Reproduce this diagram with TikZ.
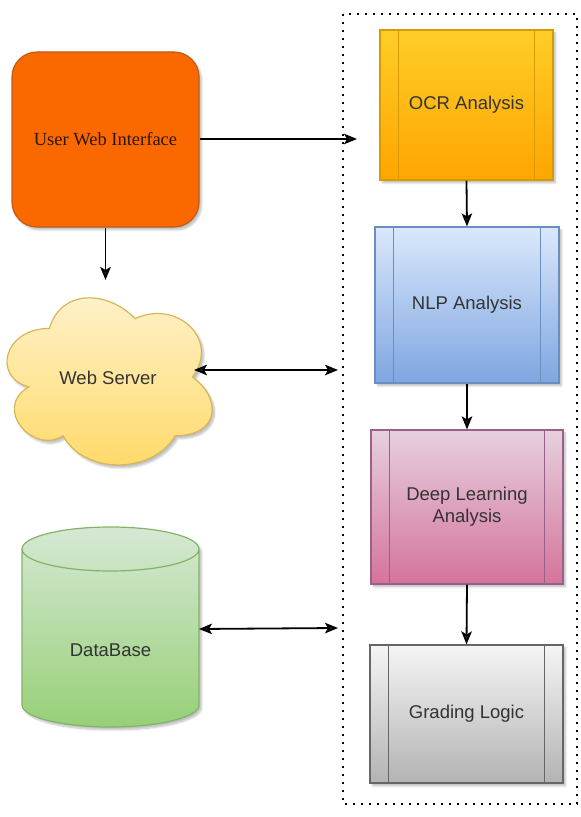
\documentclass[tikz,border=0pt]{standalone}
\usepackage{fontspec}
\setmainfont{Liberation Serif}
\newfontfamily\labelsans{Liberation Sans}
\usetikzlibrary{arrows.meta,shadows.blur}
\definecolor{uwifill}{HTML}{FA6800}
\definecolor{uwidraw}{HTML}{C25A12}
\definecolor{ocrtop}{HTML}{FFCD28}
\definecolor{ocrbot}{HTML}{FFA500}
\definecolor{ocrdraw}{HTML}{D79B00}
\definecolor{nlptop}{HTML}{DAE8FC}
\definecolor{nlpbot}{HTML}{7EA6E0}
\definecolor{nlpdraw}{HTML}{6C8EBF}
\definecolor{dltop}{HTML}{E6D0DE}
\definecolor{dlbot}{HTML}{D5739D}
\definecolor{dldraw}{HTML}{996185}
\definecolor{gltop}{HTML}{F5F5F5}
\definecolor{glbot}{HTML}{B3B3B3}
\definecolor{gldraw}{HTML}{666666}
\definecolor{wstop}{HTML}{FFF2CC}
\definecolor{wsbot}{HTML}{FFD966}
\definecolor{wsdraw}{HTML}{D6B656}
\definecolor{dbtop}{HTML}{D5E8D4}
\definecolor{dbbot}{HTML}{97D077}
\definecolor{dbdraw}{HTML}{82B366}
\definecolor{txt}{HTML}{333333}
\tikzset{
  x=1pt,y=1pt,
  shadowed/.style={blur shadow={shadow xshift=2.5pt,shadow yshift=-3pt,shadow blur steps=6,shadow opacity=25}},
  labelfont/.style={font=\labelsans\fontsize{18.5}{22}\selectfont,text=txt},
  procbox/.style={rectangle,draw=#1draw,line width=1.2pt,top color=#1top,bottom color=#1bot,shadowed,
    labelfont,align=center,inner sep=0pt},
  tip/.style={Stealth[length=13pt,width=10.5pt,inset=3pt]},
  conn/.style={line width=1.8pt,-{Stealth[length=13pt,width=10.5pt,inset=3pt]}},
  dconn/.style={line width=1.8pt,{Stealth[length=13pt,width=10.5pt,inset=3pt]}-{Stealth[length=13pt,width=10.5pt,inset=3pt]}},
  frame/.style={line width=1.9pt,dash pattern=on 1.9pt off 6.1pt,black}
}
\begin{document}
\begin{tikzpicture}
\useasboundingbox (0,0) rectangle (581,817);
% dotted frame
\draw[frame] (343,803) rectangle (577,13);
% user web interface
\node[rectangle,rounded corners=25pt,fill=uwifill,draw=uwidraw,line width=1.2pt,shadowed,
  minimum width=187pt,minimum height=175pt,text=black!75!uwidraw,
  font=\fontsize{18.5}{22}\selectfont] (uwi) at (105.5,677.5) {User Web Interface};
% process boxes
\node[procbox=ocr,minimum width=173pt,minimum height=150pt] (ocr) at (466.5,712) {OCR Analysis};
\node[procbox=nlp,minimum width=184pt,minimum height=156pt] (nlp) at (467,512) {NLP Analysis};
\node[procbox=dl,minimum width=192pt,minimum height=154pt] (dl) at (467,310) {Deep Learning\\Analysis};
\node[procbox=gl,minimum width=193pt,minimum height=138pt] (gl) at (466.5,103) {Grading Logic};
\foreach \n/\c in {ocr/ocrdraw,nlp/nlpdraw,dl/dldraw,gl/gldraw}{
  \draw[\c,line width=1.2pt] ([xshift=19pt]\n.north west) -- ([xshift=19pt]\n.south west);
  \draw[\c,line width=1.2pt] ([xshift=-19pt]\n.north east) -- ([xshift=-19pt]\n.south east);
}
% web server cloud
\draw[draw=wsdraw,line width=1.2pt,top color=wstop,bottom color=wsbot,shadowed]
  (49.35,488.55) .. controls (3.55,488.55) and (-7.9,439.8) .. (28.74,430.05)
  .. controls (-7.9,408.6) and (33.32,361.8) .. (63.09,381.3)
  .. controls (83.7,342.3) and (152.4,342.3) .. (175.3,381.3)
  .. controls (221.1,381.3) and (221.1,420.3) .. (192.48,439.8)
  .. controls (221.1,478.8) and (175.3,517.8) .. (135.23,498.3)
  .. controls (106.6,527.55) and (60.8,527.55) .. (49.35,488.55) -- cycle;
\node[labelfont] (ws) at (108,439) {Web Server};
% database cylinder
\fill[shadowed,white]
  (22,268) -- (22,112) arc[start angle=180,end angle=360,x radius=88.5,y radius=22] -- (199,268)
  arc[start angle=0,end angle=180,x radius=88.5,y radius=22] -- cycle;
\shade[top color=dbtop,bottom color=dbbot]
  (22,268) -- (22,112) arc[start angle=180,end angle=360,x radius=88.5,y radius=22] -- (199,268)
  arc[start angle=0,end angle=180,x radius=88.5,y radius=22] -- cycle;
\draw[dbdraw,line width=1.2pt]
  (22,268) -- (22,112) arc[start angle=180,end angle=360,x radius=88.5,y radius=22] -- (199,268)
  arc[start angle=0,end angle=360,x radius=88.5,y radius=22];
\node[labelfont,minimum width=177pt,minimum height=200pt] (db) at (110.5,167) {DataBase};
% connector end points on the frame
\coordinate (uwiIn) at (357,678);
\coordinate (uwiDown) at (105.5,537);
\coordinate (wsOut) at (194,447);
\coordinate (wsIn) at (338,447);
\coordinate (dbOut) at (199,188);
\coordinate (dbIn) at (338,189);
% connectors
\draw[conn] (uwi.east |- uwiIn) -- (uwiIn);
\draw[conn] (uwi.south) -- (uwiDown);
\draw[dconn] (wsOut) -- (wsIn);
\draw[dconn] (dbOut) -- (dbIn);
\draw[conn] (ocr.south) -- (nlp.north);
\draw[conn] (nlp.south) -- (dl.north);
\draw[conn] (dl.south) -- (gl.north);
\end{tikzpicture}
\end{document}
